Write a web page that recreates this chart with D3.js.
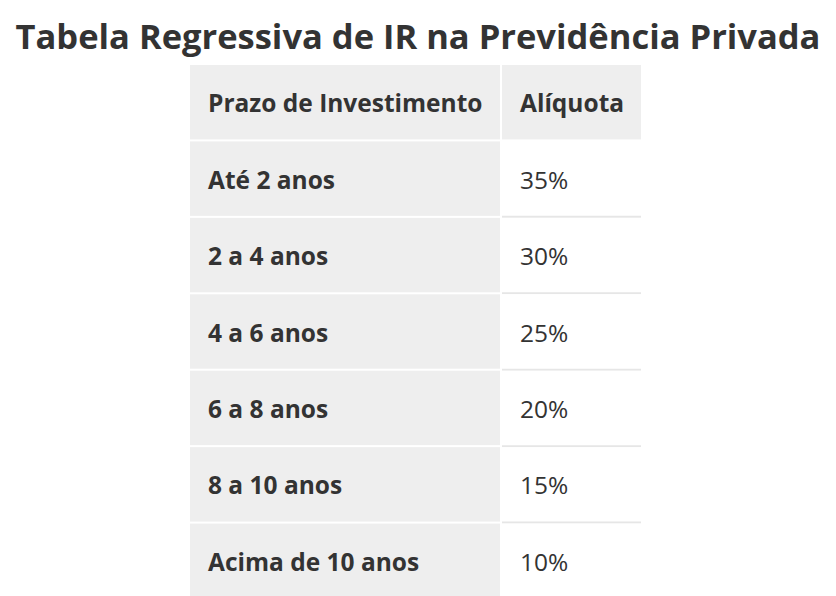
<!DOCTYPE html>
<html><head><meta charset="utf-8">
<script src="https://cdn.jsdelivr.net/npm/d3@7"></script>
<style>body{margin:0;background:#fff;font-family:"Open Sans",sans-serif;}</style>
</head><body><svg id="chart" width="836" height="596"></svg>
<script>
var title = "Tabela Regressiva de IR na Previdência Privada";
var headers = ["Prazo de Investimento", "Alíquota"];
var prazos = ["Até 2 anos", "2 a 4 anos", "4 a 6 anos", "6 a 8 anos", "8 a 10 anos", "Acima de 10 anos"];
var aliquotas = [35, 30, 25, 20, 15, 10];

var svg = d3.select('#chart');

svg.append('text')
  .attr('x', 418).attr('y', 49)
  .attr('text-anchor', 'middle')
  .attr('font-size', 34.5).attr('font-weight', 700)
  .attr('fill', '#333')
  .text(title);

var rows = ["header"].concat(prazos);
var y = d3.scaleBand().domain(rows).range([65, 600]);
var x = d3.scaleOrdinal().domain([0, 1]).range([190, 502]);
var w = [310, 139];

var g = svg.selectAll('g.row').data(rows).join('g').attr('class', 'row');

g.each(function(r, i) {
  var sel = d3.select(this);
  var top = y(r), h = y.bandwidth() - 2;
  var cells = i == 0 ? headers : [r, aliquotas[i - 1] + "%"];
  cells.forEach(function(c, j) {
    sel.append('rect')
      .attr('x', x(j)).attr('y', top)
      .attr('width', w[j]).attr('height', h)
      .attr('fill', (i == 0 || j == 0) ? '#eeeeee' : '#ffffff');
    sel.append('text')
      .attr('x', x(j) + 18).attr('y', top + h / 2 + 10)
      .attr('font-size', 24.5)
      .attr('font-weight', (i == 0 || j == 0) ? 700 : 400)
      .attr('fill', '#333')
      .text(c);
  });
  if (i > 0) {
    sel.append('line')
      .attr('x1', 502).attr('x2', 641)
      .attr('y1', top + h + 1).attr('y2', top + h + 1)
      .attr('stroke', '#e6e6e6').attr('stroke-width', 2);
  }
});
</script></body></html>
